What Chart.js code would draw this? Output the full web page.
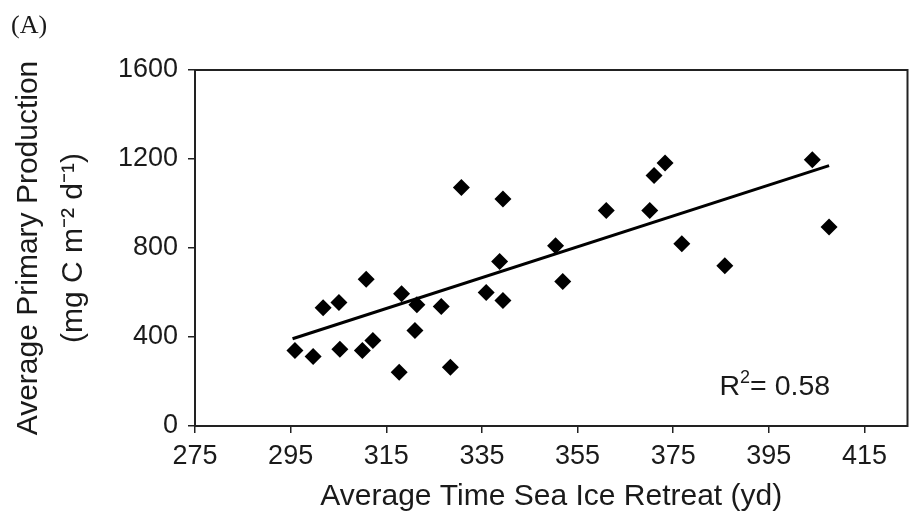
<!DOCTYPE html>
<html>
<head>
<meta charset="utf-8">
<script src="https://cdn.jsdelivr.net/npm/chart.js@4/dist/chart.umd.min.js"></script>
<style>
  html, body { margin: 0; padding: 0; background: #fff; }
  #wrap { width: 916px; height: 521px; }
</style>
</head>
<body>
<div id="wrap"><canvas id="c" width="916" height="521"></canvas></div>
<script>
// ---- data ----
const retreatDay = [295.9, 299.7, 301.8, 305.1, 305.3, 310.8, 310.0, 312.2, 317.7, 318.2,
                    321.4, 321.0, 326.5, 328.4, 330.7, 335.9, 339.4, 338.7, 339.4, 350.4,
                    351.9, 361.0, 370.1, 371.0, 373.3, 376.8, 385.8, 404.1, 407.6];
const production = [339, 312, 532, 555, 345, 660, 339, 384, 242, 594,
                    545, 429, 537, 264, 1072, 600, 564, 739, 1020, 810,
                    649, 969, 968, 1126, 1182, 819, 720, 1197, 894];
const trendX = [295.4, 407.6];
const trendY = [392, 1170];
const xTicks = [275, 295, 315, 335, 355, 375, 395, 415];
const yTicks = [0, 400, 800, 1200, 1600];
const xRange = [275, 424];
const yRange = [0, 1600];
const panelLabel = '(A)';
const rSquaredText = ['R', '2', '= 0.58'];
const xTitle = 'Average Time Sea Ice Retreat (yd)';
const yTitle = ['Average Primary Production', '(mg C m\u207B\u00B2 d\u207B\u00B9)'];

const SANS = '"Liberation Sans", Arial, Helvetica, sans-serif';
const SERIF = '"Liberation Serif", "Times New Roman", serif';
const TXT = '#1a1a1a';

const scatterPts = retreatDay.map((x, i) => ({ x: x, y: production[i] }));
const trendPts = trendX.map((x, i) => ({ x: x, y: trendY[i] }));

const framePlugin = {
  id: 'frame',
  afterDraw(chart) {
    const { ctx, chartArea: a } = chart;
    ctx.save();
    ctx.strokeStyle = '#222';
    ctx.lineWidth = 2;
    ctx.strokeRect(a.left, a.top, a.right - a.left, a.bottom - a.top);
    // panel label
    ctx.fillStyle = TXT;
    ctx.font = '26px ' + SERIF;
    ctx.textBaseline = 'alphabetic';
    ctx.textAlign = 'left';
    ctx.fillText(panelLabel, 11, 33);
    // R squared annotation
    ctx.font = '28.5px ' + SANS;
    const bx = a.right - 188, by = a.bottom - 31;
    ctx.fillText(rSquaredText[0], bx, by);
    const w0 = ctx.measureText(rSquaredText[0]).width;
    ctx.font = '18px ' + SANS;
    ctx.fillText(rSquaredText[1], bx + w0, by - 12);
    const w1 = ctx.measureText(rSquaredText[1]).width;
    ctx.font = '28.5px ' + SANS;
    ctx.fillText(rSquaredText[2], bx + w0 + w1, by);
    ctx.restore();
  }
};

new Chart(document.getElementById('c'), {
  type: 'scatter',
  data: {
    datasets: [
      {
        type: 'line',
        data: trendPts,
        borderColor: '#000',
        borderWidth: 3,
        pointRadius: 0,
        fill: false,
        order: 2
      },
      {
        data: scatterPts,
        pointStyle: 'rectRot',
        pointRadius: 8.5,
        pointHoverRadius: 8.5,
        backgroundColor: '#000',
        borderColor: '#000',
        borderWidth: 0,
        order: 1
      }
    ]
  },
  plugins: [framePlugin],
  options: {
    responsive: false,
    animation: false,
    events: [],
    layout: { padding: { left: 0, top: 70, right: 7, bottom: 0 } },
    plugins: { legend: { display: false }, tooltip: { enabled: false } },
    scales: {
      x: {
        type: 'linear',
        position: 'bottom',
        min: xRange[0],
        max: xRange[1],
        afterBuildTicks(s) { s.ticks = xTicks.map(v => ({ value: v })); },
        afterFit(s) { s.height = 95; },
        grid: { display: true, drawOnChartArea: false, drawTicks: true, tickLength: 7, color: '#222', lineWidth: 1.5 },
        border: { display: false },
        ticks: { color: TXT, font: { family: SANS, size: 27 }, padding: 7, maxRotation: 0, autoSkip: false,
                 callback: v => String(v) },
        title: {
          display: true,
          text: xTitle,
          color: TXT,
          font: { family: SANS, size: 30, lineHeight: 1.2 },
          padding: { top: 0, bottom: 6 }
        }
      },
      y: {
        type: 'linear',
        position: 'left',
        min: yRange[0],
        max: yRange[1],
        afterBuildTicks(s) { s.ticks = yTicks.map(v => ({ value: v })); },
        afterFit(s) { s.width = 195; },
        grid: { display: true, drawOnChartArea: false, drawTicks: true, tickLength: 7, color: '#222', lineWidth: 1.5 },
        border: { display: false },
        ticks: { color: TXT, font: { family: SANS, size: 27 }, padding: 10, autoSkip: false,
                 callback: v => String(v) },
        title: {
          display: true,
          text: yTitle,
          color: TXT,
          font: { family: SANS, size: 30, lineHeight: 1.5 },
          padding: { top: 6, bottom: 0 }
        }
      }
    }
  }
});
</script>
</body>
</html>
